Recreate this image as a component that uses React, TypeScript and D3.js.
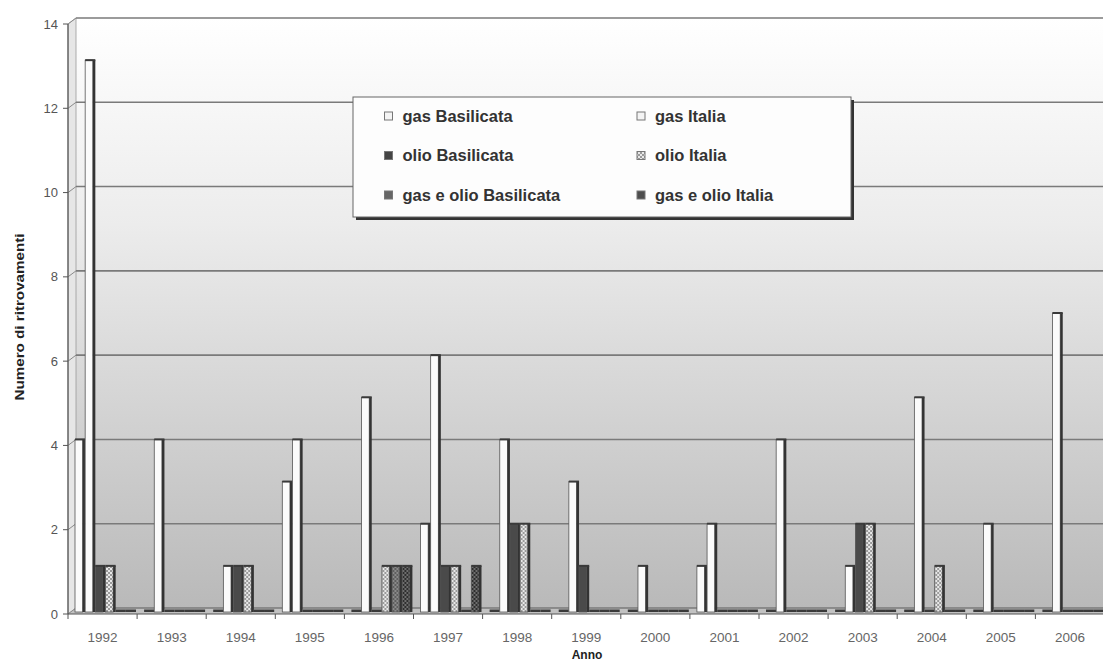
import React from "react";
import * as d3 from "d3";

const years = ["1992","1993","1994","1995","1996","1997","1998","1999","2000","2001","2002","2003","2004","2005","2006"];
const seriesNames = ["gas Basilicata","gas Italia","olio Basilicata","olio Italia","gas e olio Basilicata","gas e olio Italia"];
const gasBasilicata =     [4,0,0,3,0,2,0,0,0,1,0,0,0,0,0];
const gasItalia =         [13,4,1,4,5,6,4,3,1,2,4,1,5,2,7];
const olioBasilicata =    [1,0,1,0,0,1,2,1,0,0,0,2,0,0,0];
const olioItalia =        [1,0,1,0,1,1,2,0,0,0,0,2,1,0,0];
const gasOlioBasilicata = [0,0,0,0,1,0,0,0,0,0,0,0,0,0,0];
const gasOlioItalia =     [0,0,0,0,1,1,0,0,0,0,0,0,0,0,0];
const seriesValues = [gasBasilicata, gasItalia, olioBasilicata, olioItalia, gasOlioBasilicata, gasOlioItalia];
const yTicks = [0,2,4,6,8,10,12,14];

const fills = ["#fbfbfb","#fbfbfb","#4a4a4a","url(#pLight)","url(#pMed)","url(#pDark)"];
const swatchFills = ["#f4f4f4","#f4f4f4","#444","url(#pLight)","#666","#4d4d4d"];

export default function App() {
  const W = 1103, H = 663;
  const axisX = 68, dx = 8, dy = 6;
  const y = d3.scaleLinear().domain([0, 14]).range([608, 18]);
  const x0 = d3.scaleBand().domain(years).range([axisX, axisX + 69.1 * 15]).padding(0);
  const x1 = d3.scaleBand().domain(seriesNames).range([7, 68]).padding(0);
  const bw = x1.bandwidth();
  const base = 612;

  return (
    <svg width={W} height={H} style={{ position: "absolute", left: 0, top: 0, background: "#fff" }} fontFamily="'Liberation Sans', Arial, sans-serif">
      <defs>
        <linearGradient id="wall" x1="0" y1="0" x2="0" y2="1">
          <stop offset="0" stopColor="#ffffff" />
          <stop offset="0.35" stopColor="#ececec" />
          <stop offset="1" stopColor="#b9b9b9" />
        </linearGradient>
        <pattern id="pLight" width="4" height="4" patternUnits="userSpaceOnUse">
          <rect width="4" height="4" fill="#e8e8e8" />
          <rect width="2" height="2" fill="#9a9a9a" />
          <rect x="2" y="2" width="2" height="2" fill="#9a9a9a" />
        </pattern>
        <pattern id="pMed" width="4" height="4" patternUnits="userSpaceOnUse">
          <rect width="4" height="4" fill="#5e5e5e" />
          <rect width="2" height="2" fill="#8a8a8a" />
          <rect x="2" y="2" width="2" height="2" fill="#8a8a8a" />
        </pattern>
        <pattern id="pDark" width="4" height="4" patternUnits="userSpaceOnUse">
          <rect width="4" height="4" fill="#2e2e2e" />
          <rect width="2" height="2" fill="#6e6e6e" />
          <rect x="2" y="2" width="2" height="2" fill="#6e6e6e" />
        </pattern>
      </defs>

      {/* back wall */}
      <rect x={axisX + dx} y={y(14)} width={W - axisX - dx} height={y(0) - y(14)} fill="url(#wall)" />
      {/* side wall */}
      <path d={`M${axisX},${y(14) + dy}L${axisX + dx},${y(14)}L${axisX + dx},${y(0)}L${axisX},${y(0) + dy}Z`} fill="#e6e6e6" stroke="#999" strokeWidth={0.8} />
      {/* floor */}
      <path d={`M${axisX},${y(0) + dy}L${axisX + dx},${y(0)}L${W},${y(0)}L${W},${y(0) + dy}Z`} fill="#c2c2c2" />

      {/* gridlines */}
      {yTicks.map(t => (
        <g key={t}>
          <line x1={axisX + dx} x2={W} y1={y(t)} y2={y(t)} stroke="#7a7a7a" strokeWidth={1.6} />
          <line x1={axisX} x2={axisX + dx} y1={y(t) + dy} y2={y(t)} stroke="#8a8a8a" strokeWidth={1} />
        </g>
      ))}

      {/* bars */}
      {years.map((yr, i) => (
        <g key={yr} transform={`translate(${x0(yr)},0)`}>
          {seriesNames.map((s, j) => {
            const v = seriesValues[j][i];
            const bx = x1(s)!;
            if (v === 0) {
              return <rect key={s} x={bx} y={base - 2.5} width={bw} height={2.5} fill="#3a3a3a" />;
            }
            const top = y(v);
            return (
              <g key={s}>
                <rect x={bx} y={top} width={bw - 2.5} height={base - top} fill={fills[j]} stroke="#555" strokeWidth={0.8} />
                <rect x={bx + bw - 2.5} y={top} width={2.5} height={base - top} fill="#333" />
                <rect x={bx} y={top - 1} width={bw} height={2} fill="#3a3a3a" />
              </g>
            );
          })}
        </g>
      ))}

      {/* y axis */}
      <line x1={axisX} x2={axisX} y1={y(14) + dy} y2={y(0) + dy} stroke="#555" strokeWidth={1.2} />
      {yTicks.map(t => (
        <g key={t}>
          <line x1={axisX - 5} x2={axisX} y1={y(t) + dy} y2={y(t) + dy} stroke="#555" strokeWidth={1} />
          <text x={axisX - 10} y={y(t) + dy} dy="0.35em" textAnchor="end" fontSize={13} fill="#555">{t}</text>
        </g>
      ))}

      {/* x axis */}
      <line x1={axisX} x2={W} y1={y(0) + dy} y2={y(0) + dy} stroke="#555" strokeWidth={1.2} />
      {years.map(yr => (
        <g key={yr}>
          <line x1={x0(yr)!} x2={x0(yr)!} y1={y(0) + dy} y2={y(0) + dy + 5} stroke="#555" strokeWidth={1} />
          <text x={x0(yr)! + x0.bandwidth() / 2} y={642} textAnchor="middle" fontSize={13.5} fill="#666">{yr}</text>
        </g>
      ))}
      <text x={587} y={659} textAnchor="middle" fontSize={12} fontWeight="bold" fill="#222">Anno</text>
      <text transform="translate(24,317) rotate(-90)" textAnchor="middle" fontSize={12} fontWeight="bold" fill="#222" textLength={167} lengthAdjust="spacingAndGlyphs">Numero di ritrovamenti</text>

      {/* legend */}
      <rect x={356} y={100} width={498} height={120} fill="#333" />
      <rect x={353} y={97} width={498} height={120} fill="#fdfdfd" stroke="#666" strokeWidth={1} />
      {seriesNames.map((s, j) => {
        const col = j % 2, row = Math.floor(j / 2);
        const sx = col === 0 ? 388.5 : 641;
        const sy = 116 + row * 39.5;
        return (
          <g key={s}>
            <rect x={sx - 4} y={sy - 4} width={8} height={8} fill={swatchFills[j]} stroke="#777" strokeWidth={1} />
            <text x={sx + 14} y={sy} dy="0.36em" fontSize={16.5} fontWeight="bold" fill="#333">{s}</text>
          </g>
        );
      })}
    </svg>
  );
}
